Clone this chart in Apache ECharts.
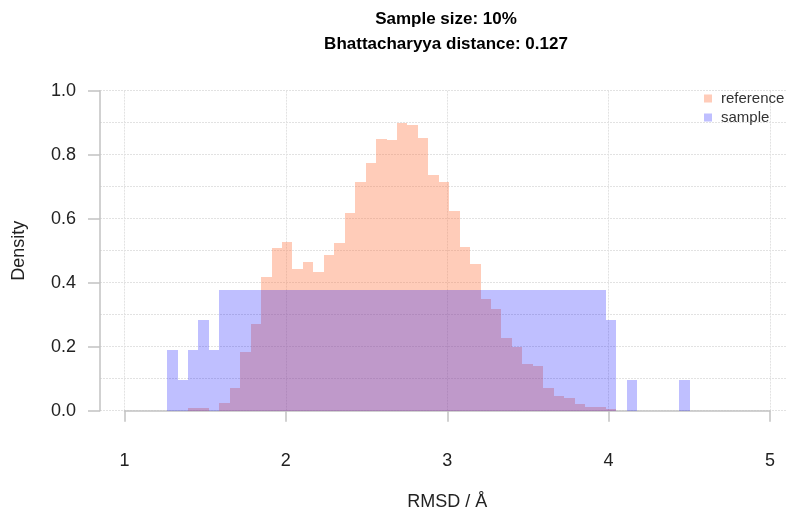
<!DOCTYPE html>
<html><head><meta charset="utf-8">
<script src="https://cdn.jsdelivr.net/npm/echarts@6/dist/echarts.min.js"></script>
<style>html,body{margin:0;padding:0;background:#fff}#c{width:786px;height:514px}</style>
</head><body><div id="c"></div>
<script>
// ---- data ----
const titleLines = ['Sample size: 10%', 'Bhattacharyya distance: 0.127'];
const seriesNames = ['reference', 'sample'];
const xAxisTitle = 'RMSD / \u00C5';
const yAxisTitle = 'Density';
const xTicks = [1, 2, 3, 4, 5];
const yTicks = [0.0, 0.2, 0.4, 0.6, 0.8, 1.0];

const binWidth = 0.06475;          // common bin width of both histograms
const refFirstEdge = 1.3934;       // left edge of first reference bin
const refDensity = [
  0.010, 0.010, 0.000, 0.025, 0.072, 0.184, 0.271, 0.417, 0.507, 0.528,
  0.442, 0.465, 0.433, 0.487, 0.525, 0.617, 0.714, 0.775, 0.849, 0.845,
  0.900, 0.893, 0.851, 0.737, 0.716, 0.624, 0.513, 0.459, 0.348, 0.319,
  0.228, 0.198, 0.146, 0.141, 0.071, 0.046, 0.040, 0.021, 0.013, 0.013,
  0.005
];
const sampleFirstEdge = 1.2639;    // left edge of first sample bin
const sampleDensity = [
  0.189, 0.0945, 0.189, 0.2835, 0.189,
  0.378, 0.378, 0.378, 0.378, 0.378, 0.378, 0.378, 0.378, 0.378, 0.378,
  0.378, 0.378, 0.378, 0.378, 0.378, 0.378, 0.378, 0.378, 0.378, 0.378,
  0.378, 0.378, 0.378, 0.378, 0.378, 0.378, 0.378, 0.378, 0.378, 0.378,
  0.378, 0.378, 0.378, 0.378, 0.378, 0.378, 0.378,
  0.2835, 0, 0.0945, 0, 0, 0, 0, 0.0945
];

const refColor = 'rgba(255,127,80,0.4)';
const sampleColor = 'rgba(0,0,255,0.25)';

function toBins(first, dens) {
  const out = [];
  dens.forEach((d, i) => {
    if (d > 0) out.push([first + i * binWidth, first + (i + 1) * binWidth, d]);
  });
  return out;
}

function makeRender(color) {
  return function (params, api) {
    const p0 = api.coord([api.value(0), api.value(2)]);
    const p1 = api.coord([api.value(1), 0]);
    const x0 = Math.round(p0[0]), x1 = Math.round(p1[0]);
    const y0 = Math.round(p0[1]), y1 = Math.round(p1[1]);
    return {
      type: 'rect',
      shape: { x: x0, y: y0, width: x1 - x0, height: y1 - y0 },
      style: { fill: color }
    };
  };
}

const font = 'Liberation Sans, Arial, Helvetica, sans-serif';
const axisGray = '#c2c2c2';
const gridGray = '#e2e2e2';

const chart = echarts.init(document.getElementById('c'), null, { renderer: 'canvas' });
chart.setOption({
  animation: false,
  backgroundColor: '#ffffff',
  textStyle: { fontFamily: font },
  title: {
    text: titleLines.join('\n'),
    left: 441, top: 2, textAlign: 'center',
    textStyle: { fontFamily: font, fontSize: 17, fontWeight: 'bold', color: '#000', lineHeight: 25 }
  },
  legend: {
    orient: 'vertical', left: 704, top: 91, padding: 0,
    itemWidth: 16, itemHeight: 8, itemGap: 4,
    icon: 'path://M0,0h1v1h-1z',
    data: seriesNames,
    textStyle: { fontFamily: font, fontSize: 15, color: '#333' }
  },
  grid: [
    { left: 124.5, right: 16, top: 90.7, bottom: 103.3, containLabel: false, outerBoundsMode: 'none' },
    { left: 100, right: 0, top: 90.7, bottom: 103.3, containLabel: false, outerBoundsMode: 'none' }
  ],
  xAxis: [
    {
      type: 'value', gridIndex: 0, min: xTicks[0], max: xTicks[xTicks.length - 1], interval: 1,
      offset: 12.6,
      axisLine: { show: true, lineStyle: { color: axisGray, width: 1.5 } },
      axisTick: { show: true, length: 11, lineStyle: { color: axisGray, width: 1.5 } },
      axisLabel: { margin: 29, fontSize: 18, color: '#222', fontFamily: font },
      splitLine: { show: true, lineStyle: { color: gridGray, width: 1, type: [2, 1] } },
      name: xAxisTitle, nameLocation: 'middle', nameGap: 70,
      nameTextStyle: { fontSize: 18, color: '#222', fontFamily: font }
    },
    { type: 'value', gridIndex: 1, min: 0, max: 1, show: false }
  ],
  yAxis: [
    {
      type: 'value', gridIndex: 0, min: yTicks[0], max: yTicks[yTicks.length - 1], interval: 0.2,
      offset: 24.5,
      axisLine: { show: true, lineStyle: { color: axisGray, width: 1.5 } },
      axisTick: { show: true, length: 12, lineStyle: { color: axisGray, width: 1.5 } },
      axisLabel: { margin: 24, fontSize: 18, color: '#222', fontFamily: font,
        formatter: v => v.toFixed(1) },
      splitLine: { show: false },
      name: yAxisTitle, nameLocation: 'middle', nameGap: 72,
      nameTextStyle: { fontSize: 18, color: '#222', fontFamily: font }
    },
    {
      type: 'value', gridIndex: 1, min: 0, max: 1, interval: 0.1,
      axisLine: { show: false }, axisTick: { show: false }, axisLabel: { show: false },
      splitLine: { show: true, lineStyle: { color: gridGray, width: 1, type: [2, 1] } }
    }
  ],
  series: [
    {
      name: seriesNames[0], type: 'custom', xAxisIndex: 0, yAxisIndex: 0,
      itemStyle: { color: refColor },
      renderItem: makeRender(refColor),
      encode: { x: [0, 1], y: 2 },
      data: toBins(refFirstEdge, refDensity)
    },
    {
      name: seriesNames[1], type: 'custom', xAxisIndex: 0, yAxisIndex: 0,
      itemStyle: { color: sampleColor },
      renderItem: makeRender(sampleColor),
      encode: { x: [0, 1], y: 2 },
      data: toBins(sampleFirstEdge, sampleDensity)
    }
  ]
});
</script>
</body></html>
